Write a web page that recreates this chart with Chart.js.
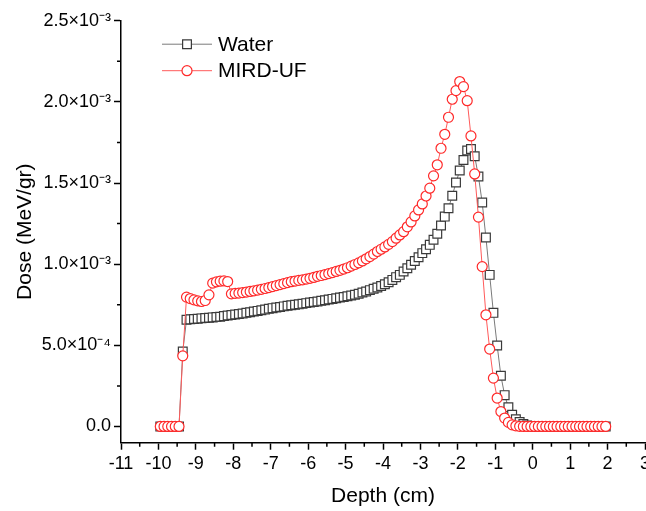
<!DOCTYPE html>
<html>
<head>
<meta charset="utf-8">
<script src="https://cdn.jsdelivr.net/npm/chart.js@4.4.0/dist/chart.umd.min.js"></script>
<style>
  html, body { margin: 0; padding: 0; background: #fff; overflow: hidden; }
  #wrap { width: 680px; height: 511px; }
</style>
</head>
<body>
<div id="wrap"><canvas id="dose_chart"></canvas></div>
<script>
// depth (cm), bin centres
const depth = [
  -9.95, -9.85, -9.75, -9.65, -9.55, -9.45, -9.35, -9.25, -9.15, -9.05,
  -8.95, -8.85, -8.75, -8.65, -8.55, -8.45, -8.35, -8.25, -8.15, -8.05,
  -7.95, -7.85, -7.75, -7.65, -7.55, -7.45, -7.35, -7.25, -7.15, -7.05,
  -6.95, -6.85, -6.75, -6.65, -6.55, -6.45, -6.35, -6.25, -6.15, -6.05,
  -5.95, -5.85, -5.75, -5.65, -5.55, -5.45, -5.35, -5.25, -5.15, -5.05,
  -4.95, -4.85, -4.75, -4.65, -4.55, -4.45, -4.35, -4.25, -4.15, -4.05,
  -3.95, -3.85, -3.75, -3.65, -3.55, -3.45, -3.35, -3.25, -3.15, -3.05,
  -2.95, -2.85, -2.75, -2.65, -2.55, -2.45, -2.35, -2.25, -2.15, -2.05,
  -1.95, -1.85, -1.75, -1.65, -1.55, -1.45, -1.35, -1.25, -1.15, -1.05,
  -0.95, -0.85, -0.75, -0.65, -0.55, -0.45, -0.35, -0.25, -0.15, -0.05,
  0.05, 0.15, 0.25, 0.35, 0.45, 0.55, 0.65, 0.75, 0.85, 0.95,
  1.05, 1.15, 1.25, 1.35, 1.45, 1.55, 1.65, 1.75, 1.85, 1.95
];

// dose in units of 1e-4 MeV/gr
const water_dose = [
  0, 0, 0, 0, 0, 0, 4.62, 6.57, 6.60, 6.62,
  6.64, 6.66, 6.68, 6.70, 6.72, 6.74, 6.76, 6.80, 6.84, 6.87,
  6.90, 6.93, 6.96, 7.00, 7.04, 7.08, 7.12, 7.16, 7.20, 7.25,
  7.29, 7.33, 7.36, 7.40, 7.44, 7.47, 7.50, 7.53, 7.56, 7.60,
  7.64, 7.67, 7.70, 7.74, 7.78, 7.82, 7.86, 7.90, 7.94, 7.98,
  8.02, 8.07, 8.12, 8.18, 8.25, 8.32, 8.40, 8.48, 8.56, 8.65,
  8.76, 8.89, 9.03, 9.20, 9.34, 9.55, 9.75, 9.96, 10.20, 10.43,
  10.68, 10.92, 11.19, 11.50, 11.87, 12.38, 12.93, 13.45, 14.21, 15.03,
  15.77, 16.42, 17.00, 17.10, 16.65, 15.40, 13.80, 11.64, 9.34, 7.00,
  4.99, 3.12, 1.93, 1.18, 0.72, 0.45, 0.28, 0.15, 0.06, 0.02,
  0, 0, 0, 0, 0, 0, 0, 0, 0, 0,
  0, 0, 0, 0, 0, 0, 0, 0, 0, 0
];

const mird_dose = [
  0, 0, 0, 0, 0, 0, 4.35, 7.97, 7.88, 7.80,
  7.74, 7.70, 7.76, 8.11, 8.83, 8.91, 8.95, 8.97, 8.93, 8.17,
  8.20, 8.22, 8.25, 8.28, 8.32, 8.36, 8.40, 8.45, 8.50, 8.56,
  8.62, 8.68, 8.74, 8.80, 8.86, 8.92, 8.96, 9.00, 9.03, 9.08,
  9.13, 9.18, 9.25, 9.30, 9.36, 9.42, 9.48, 9.55, 9.62, 9.70,
  9.78, 9.88, 9.98, 10.08, 10.20, 10.33, 10.47, 10.62, 10.78, 10.92,
  11.06, 11.22, 11.39, 11.60, 11.80, 12.00, 12.30, 12.60, 12.97, 13.34,
  13.71, 14.20, 14.68, 15.44, 16.12, 17.14, 18.00, 19.05, 20.16, 20.69,
  21.25, 20.94, 20.07, 17.90, 15.56, 12.90, 9.85, 6.88, 4.77, 2.98,
  1.75, 0.92, 0.52, 0.25, 0.10, 0.04, 0.01, 0, 0, 0,
  0, 0, 0, 0, 0, 0, 0, 0, 0, 0,
  0, 0, 0, 0, 0, 0, 0, 0, 0, 0
];

const x_ticks = [-11, -10, -9, -8, -7, -6, -5, -4, -3, -2, -1, 0, 1, 2, 3];
const x_minor = [-10.5, -9.5, -8.5, -7.5, -6.5, -5.5, -4.5, -3.5, -2.5, -1.5, -0.5, 0.5, 1.5, 2.5];
const y_ticks = [0, 0.0005, 0.001, 0.0015, 0.002, 0.0025];
const y_tick_labels = ["0.0", "5.0×10⁻⁴", "1.0×10⁻³", "1.5×10⁻³", "2.0×10⁻³", "2.5×10⁻³"];
const y_minor = [0.00025, 0.00075, 0.00125, 0.00175, 0.00225];

const to_points = (vals) => depth.map((d, i) => ({ x: d, y: vals[i] * 1e-4 }));

Chart.defaults.font.family = "'Liberation Sans', Arial, sans-serif";
Chart.defaults.color = "#000";

const minor_ticks = {
    id: "minor_ticks",
    afterDraw(chart) {
        const { ctx, scales: { x, y } } = chart;
        ctx.save();
        ctx.strokeStyle = "#000";
        ctx.lineWidth = 1.5;
        ctx.beginPath();
        x_minor.forEach(v => {
            const px = x.getPixelForValue(v);
            ctx.moveTo(px, y.bottom);
            ctx.lineTo(px, y.bottom + 4);
        });
        y_minor.forEach(v => {
            const py = y.getPixelForValue(v);
            ctx.moveTo(x.left, py);
            ctx.lineTo(x.left - 4, py);
        });
        ctx.stroke();
        ctx.restore();
    }
};

// Origin-style legend inside the plot: line with a marker in the middle
const inside_legend = {
    id: "inside_legend",
    afterDraw(chart) {
        const ctx = chart.ctx;
        const area = chart.chartArea;
        const x0 = area.left + 41, x1 = area.left + 91, xm = (x0 + x1) / 2;
        ctx.save();
        chart.data.datasets.forEach((ds, i) => {
            const yy = area.top + 23.5 + i * 26.5;
            ctx.strokeStyle = ds.borderColor;
            ctx.lineWidth = 1;
            ctx.beginPath();
            ctx.moveTo(x0, yy);
            ctx.lineTo(x1, yy);
            ctx.stroke();
            ctx.fillStyle = "#fff";
            ctx.strokeStyle = ds.pointBorderColor;
            ctx.lineWidth = ds.pointBorderWidth;
            ctx.beginPath();
            if (ds.pointStyle === "rect") {
                const s = ds.pointRadius * Math.SQRT1_2;
                ctx.rect(xm - s, yy - s, 2 * s, 2 * s);
            } else {
                ctx.arc(xm, yy, ds.pointRadius, 0, Math.PI * 2);
            }
            ctx.fill();
            ctx.stroke();
            ctx.fillStyle = "#000";
            ctx.font = "21px 'Liberation Sans', Arial, sans-serif";
            ctx.textBaseline = "middle";
            ctx.fillText(ds.label, x1 + 6, yy + 1);
        });
        ctx.restore();
    }
};

const ctx = document.getElementById("dose_chart");
const chart = new Chart(ctx, {
    type: "line",
    data: {
        datasets: [{
            label: "Water",
            data: to_points(water_dose),
            borderColor: "#7a7a7a",
            borderWidth: 1,
            pointStyle: "rect",
            pointRadius: 6.2,
            pointBorderColor: "#3a3a3a",
            pointBorderWidth: 1.2,
            pointBackgroundColor: "#fff",
            order: 2
        }, {
            label: "MIRD-UF",
            data: to_points(mird_dose),
            borderColor: "#ff5a5a",
            borderWidth: 1,
            pointStyle: "circle",
            pointRadius: 5,
            pointBorderColor: "#ff2a2a",
            pointBorderWidth: 1.2,
            pointBackgroundColor: "#fff",
            order: 1
        }]
    },
    options: {
        responsive: true,
        maintainAspectRatio: false,
        animation: false,
        layout: { padding: { top: 20.7, right: 35, left: 0, bottom: 0 } },
        plugins: {
            legend: { display: false },
            tooltip: { enabled: false }
        },
        scales: {
            x: {
                type: "linear",
                min: -11,
                max: 3,
                afterBuildTicks: (scale) => { scale.ticks = x_ticks.map(v => ({ value: v })); },
                afterFit: (scale) => { scale.height = 68.3; },
                ticks: { font: { size: 18 }, padding: 4, maxRotation: 0, autoSkip: false },
                grid: { drawOnChartArea: false, drawTicks: true, tickLength: 7, tickColor: "#000", tickWidth: 1.5 },
                border: { display: true, color: "#000", width: 1.5 },
                title: { display: true, text: "Depth (cm)", font: { size: 21 }, padding: { top: 0, bottom: 2.4 } }
            },
            y: {
                type: "linear",
                min: -0.0001,
                max: 0.0025,
                afterBuildTicks: (scale) => { scale.ticks = y_ticks.map(v => ({ value: v })); },
                afterFit: (scale) => { scale.width = 121; },
                ticks: {
                    font: { size: 18 },
                    padding: 3,
                    autoSkip: false,
                    callback: (value, index) => y_tick_labels[index]
                },
                grid: { drawOnChartArea: false, drawTicks: true, tickLength: 7, tickColor: "#000", tickWidth: 1.5 },
                border: { display: true, color: "#000", width: 1.5 },
                title: { display: true, text: "Dose (MeV/gr)", font: { size: 21 }, padding: { top: 13, bottom: 0 } }
            }
        }
    },
    plugins: [minor_ticks, inside_legend]
});
</script>
</body>
</html>
